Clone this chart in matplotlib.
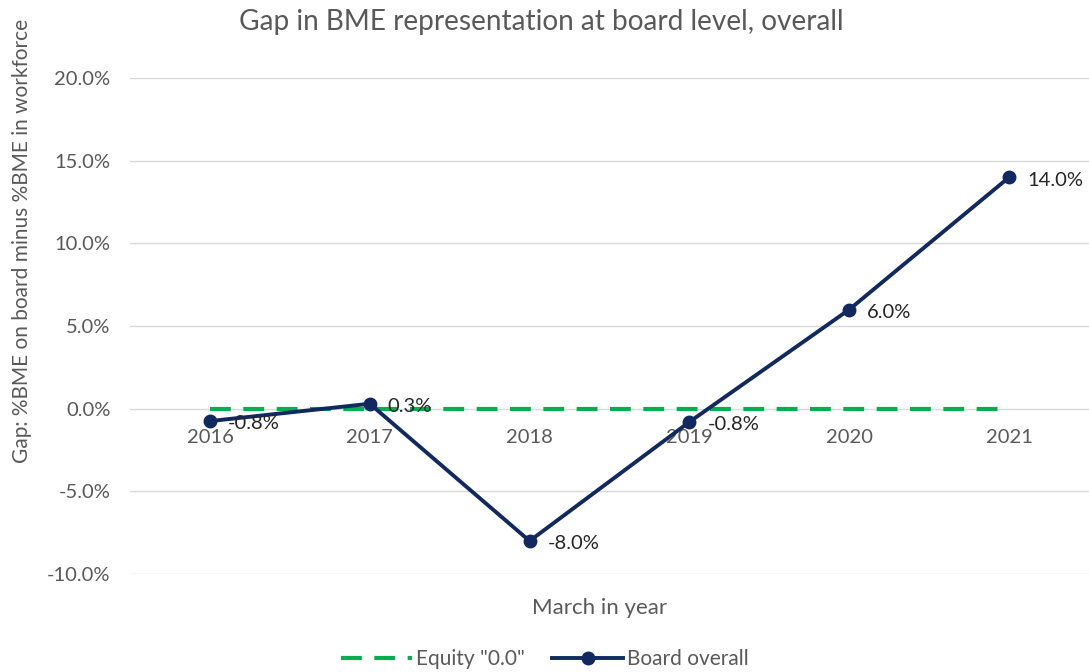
import matplotlib
matplotlib.use("Agg")
import matplotlib.pyplot as plt
from matplotlib.ticker import FuncFormatter

plt.rcParams['font.family'] = ['Lato', 'DejaVu Sans']

years = ["2016", "2017", "2018", "2019", "2020", "2021"]
board_overall = [-0.75, 0.3, -8.0, -0.8, 6.0, 14.0]
equity = [0.0, 0.0, 0.0, 0.0, 0.0, 0.0]

grey = "#595959"
navy = "#11295F"
green = "#00B050"

fig = plt.figure(figsize=(10.89, 6.72), dpi=100)
ax = fig.add_axes([0.1194, 0.1458, 0.8806, 0.738])

x = list(range(len(years)))
ax.plot(x, equity, color=green, lw=3, linestyle=(0, (5, 3)), label='Equity "0.0"', zorder=3)
ax.plot(x, board_overall, color=navy, lw=2.8, marker="o", markersize=9, label="Board overall", zorder=4)

for xi, v in zip(x, board_overall):
    ax.annotate(f"{v:.1f}%", (xi, v), xytext=(13, -2), textcoords="offset points",
                ha="left", va="center", fontsize=14.5, color="#262626", zorder=5)

# category labels sit just under the zero line, like Excel
for xi, yr in zip(x, years):
    ax.annotate(yr, (xi, 0), xytext=(0, -21), textcoords="offset points",
                ha="center", va="center", fontsize=14.5, color=grey)

ax.set_xlim(-0.5, len(years) - 0.5)
ax.set_ylim(-10, 20)
ax.set_yticks([-10, -5, 0, 5, 10, 15, 20])
ax.yaxis.set_major_formatter(FuncFormatter(lambda v, p: f"{v:.1f}%"))
ax.tick_params(axis="y", length=0, labelsize=14.5, labelcolor=grey, pad=14)
ax.set_xticks([])
ax.grid(axis="y", color="#D9D9D9", lw=1)
ax.set_axisbelow(True)
for s in ax.spines.values():
    s.set_visible(False)

fig.text(541 / 1089, 1 - 22 / 672, "Gap in BME representation at board level, overall",
         ha="center", va="center", fontsize=20.2, color=grey)
fig.text(22 / 1089, 1 - 241 / 672, "Gap: %BME on board minus %BME in workforce",
         ha="center", va="center", rotation=90, fontsize=15, color=grey)
fig.text(600 / 1089, 1 - 608 / 672, "March in year",
         ha="center", va="center", fontsize=16, color=grey)

leg = fig.legend(loc="center", bbox_to_anchor=(545 / 1089, 1 - 659 / 672), ncol=2,
                 frameon=False, fontsize=15, handlelength=3.4, columnspacing=1.3,
                 handletextpad=0.2)
for t in leg.get_texts():
    t.set_color(grey)

fig.savefig("out.png", dpi=100)
